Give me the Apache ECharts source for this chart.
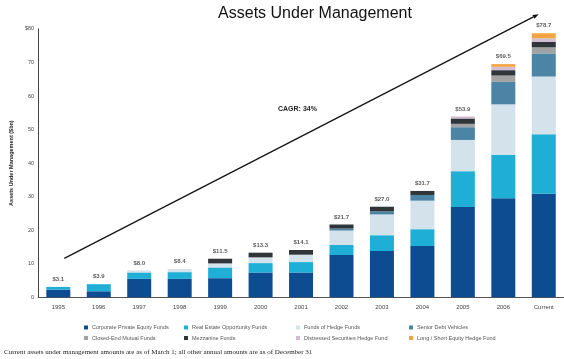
<!DOCTYPE html>
<html>
<head>
<meta charset="utf-8">
<script src="https://cdn.jsdelivr.net/npm/echarts@6/dist/echarts.min.js"></script>
<style>html,body{margin:0;padding:0;background:#fff;}#c{width:564px;height:359px;}</style>
</head>
<body>
<div id="c"></div>
<script>
const categories = ['1995','1996','1997','1998','1999','2000','2001','2002','2003','2004','2005','2006','Current'];
const corporatePE   = [2.3, 1.8, 5.5, 5.5, 5.7, 7.4, 7.4, 12.6, 13.8, 15.3, 26.9, 29.5, 30.9];
const realEstate    = [0.8, 2.1, 1.9, 2.0, 3.2, 2.8, 3.1, 3.0, 4.7, 5.0, 10.7, 13.0, 17.7];
const fundsOfHedge  = [0, 0, 0.6, 0.9, 1.2, 1.7, 2.2, 4.3, 6.2, 8.5, 9.3, 15.0, 17.2];
const seniorDebt    = [0, 0, 0, 0, 0, 0, 0, 0.6, 0.9, 1.7, 3.8, 6.7, 6.9];
const closedEnd     = [0, 0, 0, 0, 0, 0, 0, 0, 0, 0, 1.0, 1.9, 1.8];
const mezzanine     = [0, 0, 0, 0, 1.4, 1.4, 1.4, 1.2, 1.4, 1.2, 1.6, 1.6, 1.6];
const distressed    = [0, 0, 0, 0, 0, 0, 0, 0, 0, 0, 0.6, 1.0, 1.1];
const longShort     = [0, 0, 0, 0, 0, 0, 0, 0, 0, 0, 0, 0.8, 1.5];
const totals        = [3.1, 3.9, 8.0, 8.4, 11.5, 13.3, 14.1, 21.7, 27.0, 31.7, 53.9, 69.5, 78.7];
const cagrStart = 11.6, cagrEnd = 84.4;

const seriesDefs = [
  ['Corporate Private Equity Funds', corporatePE, '#0e4c92'],
  ['Real Estate Opportunity Funds', realEstate, '#1eaed6'],
  ['Funds of Hedge Funds', fundsOfHedge, '#d4e2ec'],
  ['Senior Debt Vehicles', seniorDebt, '#4b84a4'],
  ['Closed-End Mutual Funds', closedEnd, '#a2a2a2'],
  ['Mezzanine Funds', mezzanine, '#30353a'],
  ['Distressed Securities Hedge Fund', distressed, '#d3bdd3'],
  ['Long / Short Equity Hedge Fund', longShort, '#f3a440']
];
const FONT = 'Liberation Sans, Arial, sans-serif';
const legendPos = [
  [84, 324.5], [184, 324.5], [296, 324.5], [409, 324.5],
  [84, 335], [184, 335], [296, 335], [409, 335]
];

const chart = echarts.init(document.getElementById('c'), null, {renderer: 'canvas'});
const series = seriesDefs.map(d => ({
  name: d[0], type: 'bar', stack: 'aum', data: d[1], barWidth: 24,
  itemStyle: {color: d[2]}, emphasis: {disabled: true}
}));
series.push({
  name: 'Total', type: 'scatter', data: totals, symbolSize: 1,
  itemStyle: {color: 'rgba(0,0,0,0)'},
  label: {show: true, position: 'top', distance: 4, fontFamily: FONT, fontSize: 6, fontWeight: 'bold', color: '#333',
          formatter: p => '$' + p.value.toFixed(1)}
});

chart.setOption({
  animation: false,
  title: [
    {text: 'Assets Under Management', left: 310, textAlign: 'center', top: 1,
     textStyle: {fontFamily: FONT, fontSize: 16, fontWeight: 'normal', color: '#111'}},
    {text: 'Current assets under management amounts are as of March 1; all other annual amounts are as of December 31',
     left: 4, top: 349, padding: 0,
     textStyle: {fontFamily: 'Liberation Serif, Times New Roman, serif', fontSize: 7, fontWeight: 'normal', color: '#222'}}
  ],
  legend: seriesDefs.map((d, k) => ({
    data: [d[0]], left: legendPos[k][0], top: legendPos[k][1], padding: 0,
    itemWidth: 4, itemHeight: 4, itemGap: 0, icon: 'rect', selectedMode: false,
    textStyle: {fontFamily: FONT, fontSize: 5.5, color: '#555', padding: [0, 0, 0, -1]}
  })),
  grid: {left: 25, right: 0, top: 28.9, bottom: 61.7},
  xAxis: {
    type: 'category', data: categories,
    axisLine: {lineStyle: {color: '#555', width: 1}},
    axisTick: {show: false},
    axisLabel: {fontFamily: FONT, fontSize: 6, color: '#444', margin: 7}
  },
  yAxis: {
    type: 'value', min: 0, max: 80, interval: 10,
    name: 'Assets Under Management ($bn)', nameLocation: 'middle', nameGap: 17, nameRotate: 90,
    nameTextStyle: {fontFamily: FONT, fontSize: 5.5, fontWeight: 'bold', color: '#222'},
    axisLine: {show: true, lineStyle: {color: '#444', width: 1}},
    axisTick: {show: false},
    splitLine: {show: false},
    axisLabel: {fontFamily: FONT, fontSize: 5.5, color: '#444', margin: 4,
                formatter: v => v === 80 ? '$80' : String(v)}
  },
  series: series
});

const p0 = chart.convertToPixel({xAxisIndex: 0, yAxisIndex: 0}, [0, cagrStart]);
const p1 = chart.convertToPixel({xAxisIndex: 0, yAxisIndex: 0}, [categories.length - 1, cagrEnd]);
p0[0] += 6; p1[0] -= 5;
const ang = Math.atan2(p1[1] - p0[1], p1[0] - p0[0]);
const L = 6, W = 2.2;
const bx = p1[0] - L * Math.cos(ang), by = p1[1] - L * Math.sin(ang);
const head = [
  [p1[0], p1[1]],
  [bx + W * Math.sin(ang), by - W * Math.cos(ang)],
  [bx - W * Math.sin(ang), by + W * Math.cos(ang)]
];
chart.setOption({
  graphic: [
    {type: 'line', shape: {x1: p0[0], y1: p0[1], x2: bx, y2: by}, style: {stroke: '#111', lineWidth: 1.2}, z: 100},
    {type: 'polygon', shape: {points: head}, style: {fill: '#111'}, z: 100},
    {type: 'text', left: 278, top: 106, z: 100,
     style: {text: 'CAGR: 34%', fontFamily: FONT, fontSize: 7, fontWeight: 'bold', fill: '#222'}}
  ]
});
</script>
</body>
</html>
